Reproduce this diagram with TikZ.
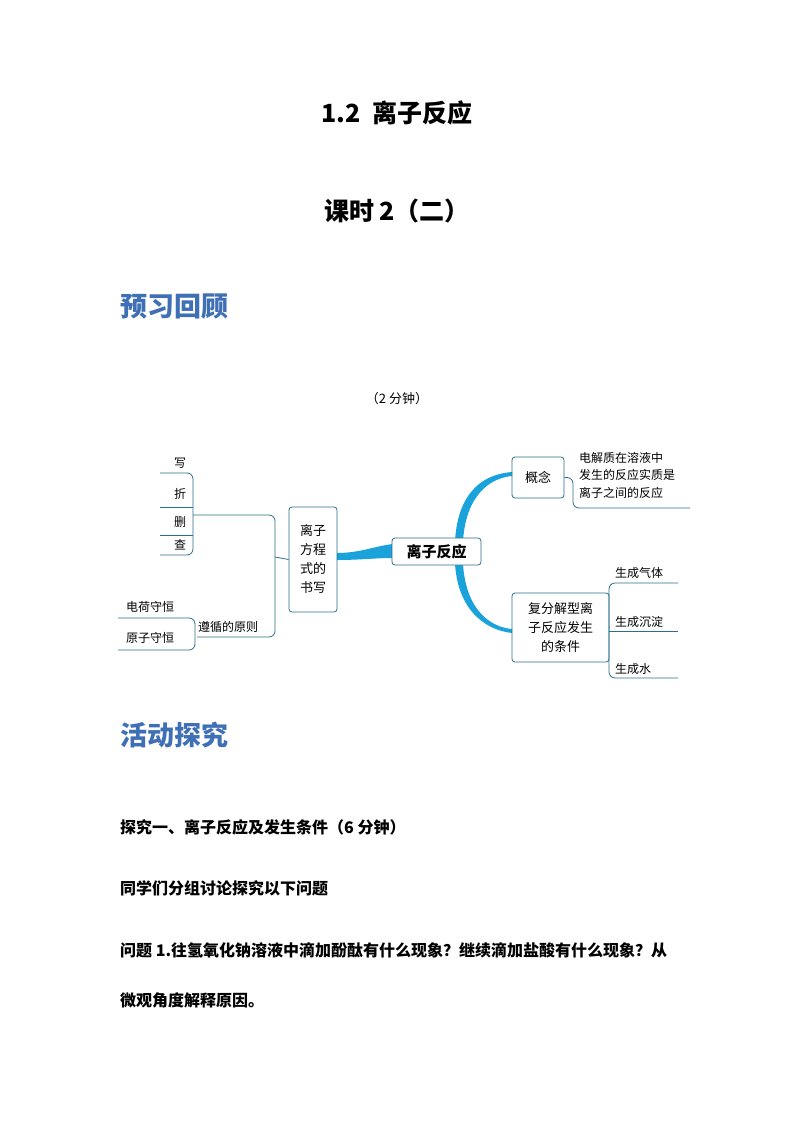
\documentclass[tikz,border=0pt]{standalone}
\usepackage{fontspec}
\setmainfont{Liberation Sans}
\newfontfamily\cjk{Noto Sans CJK SC}
\definecolor{ln}{HTML}{2A6E8C}
\definecolor{cy}{HTML}{1AA3DA}
\definecolor{hd}{HTML}{3F6FB5}
\begin{document}
\begin{tikzpicture}[x=1pt,y=-1pt,
 bx/.style={draw=ln,line width=0.8pt,rounded corners=3pt,inner sep=3pt,align=center},
 tx/.style={inner sep=0pt,font=\cjk\fontsize{12}{17.5}\selectfont,anchor=west},
 br/.style={draw=ln,line width=0.8pt,rounded corners=6pt},
 hdr/.style={inner sep=0pt,anchor=west,text=hd,font=\cjk\bfseries\fontsize{27}{30}\selectfont},
 bd/.style={inner sep=0pt,anchor=west,font=\cjk\bfseries\fontsize{16}{18}\selectfont}]
\useasboundingbox (0,0) rectangle (794,1123);
\node[inner sep=0pt,font=\cjk\bfseries\fontsize{25}{28}\selectfont] (t1) at (397,113) {1.2\ \ 离子反应};
\node[inner sep=0pt,font=\cjk\bfseries\fontsize{25}{28}\selectfont] (t2) at (397,211) {课时 2（二）};
\node[hdr] (h1) at (120,307) {预习回顾};
\node[inner sep=0pt,font=\cjk\fontsize{13}{15}\selectfont] (m) at (397,399) {（2 分钟）};
% thick connectors
\fill[cy] (337,553) .. controls (360,553) and (375,546) .. (393,544) -- (393,558) .. controls (375,558) and (360,560) .. (337,560) -- cycle;
\fill[cy] (455,541) .. controls (458,490) and (485,474) .. (512,472) -- (512,476) .. controls (490,478) and (466,495) .. (463,541) -- cycle;
\fill[cy] (455,564) .. controls (458,610) and (485,630) .. (512,633) -- (512,629) .. controls (490,627) and (466,610) .. (463,564) -- cycle;
\node[bx,minimum width=89,minimum height=27,font=\cjk\bfseries\fontsize{15}{17}\selectfont,fill=white] (c) at (436.5,551.5) {离子反应};
\node[bx,minimum width=48,minimum height=105,font=\cjk\fontsize{13}{19}\selectfont] (eq) at (313,559.5) {离子\\方程\\式的\\书写};
\node[bx,minimum width=52,minimum height=41,font=\cjk\fontsize{13}{15}\selectfont] (gn) at (538,477.5) {概念};
\node[bx,minimum width=97,minimum height=69,font=\cjk\fontsize{13}{19}\selectfont] (fj) at (560.5,627.5) {复分解型离\\子反应发生\\的条件};
% definition
\node[tx,anchor=north west,align=left] (def) at (579,452) {电解质在溶液中\\发生的反应实质是\\离子之间的反应};
\coordinate (d1) at (690,508);
\draw[br] (gn.east) -- (573,477.5) -- (573,508) -- (d1);
% right conditions
\node[tx] (r1) at (615,573) {生成气体};
\node[tx] (r2) at (615,622) {生成沉淀};
\node[tx] (r3) at (615,669) {生成水};
\coordinate (e1) at (678,583);\coordinate (e2) at (678,631);\coordinate (e3) at (678,678);
\draw[br] (e1) -- (609,583) -- (609,678) -- (e3);
\draw[br] (fj.east) -- (609,627.5);
\draw[br] (609,631) -- (e2);
% left
\node[tx] (l1) at (174,463) {写};
\node[tx] (l2) at (174,494) {折};
\node[tx] (l3) at (174,522) {删};
\node[tx] (l4) at (174,545) {查};
\coordinate (a1) at (160,473);\coordinate (a2) at (160,507);\coordinate (a3) at (160,535);\coordinate (a4) at (160,555);
\draw[br] (a1) -- (193,473) -- (193,555) -- (a4);
\draw[br] (a2) -- (193,507);
\draw[br] (a3) -- (193,535);
\draw[br] (193,515) -- (275,515) -- (275,637) -- (197,637);
\draw[br] (275,557) -- (eq.west);
\node[tx] (zx) at (198,627) {遵循的原则};
\node[tx] (k1) at (126,607) {电荷守恒};
\node[tx] (k2) at (126,638) {原子守恒};
\coordinate (b1) at (118,618);\coordinate (b2) at (118,650);
\draw[br] (b1) -- (195,618) -- (195,650) -- (b2);
% second part
\node[hdr] (h2) at (120,735) {活动探究};
\node[bd] (p1) at (120,827) {探究一、离子反应及发生条件（6 分钟）};
\node[bd] (p2) at (120,888) {同学们分组讨论探究以下问题};
\node[bd] (p3) at (120,950) {问题 1.往氢氧化钠溶液中滴加酚酞有什么现象？继续滴加盐酸有什么现象？从};
\node[bd] (p4) at (120,1000) {微观角度解释原因。};
\end{tikzpicture}
\end{document}
